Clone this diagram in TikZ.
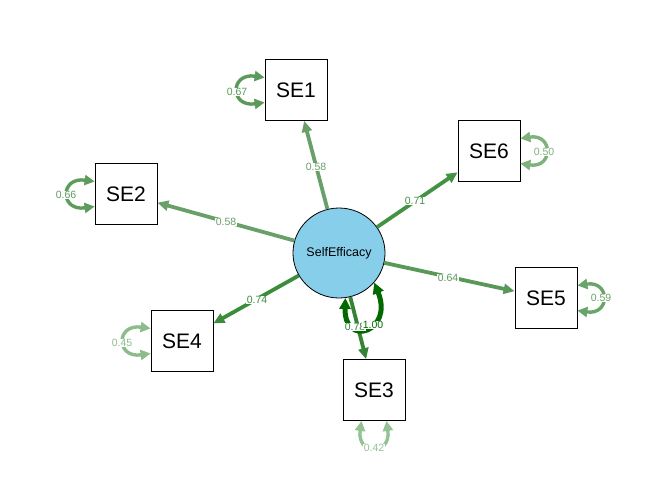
\documentclass[tikz,border=0pt]{standalone}
\usepackage{fontspec}
\setmainfont{Liberation Sans}
\usetikzlibrary{arrows.meta,shapes.geometric,calc}
\definecolor{skyb}{HTML}{87CEEB}
\definecolor{eA}{RGB}{105,160,105}% 0.58
\definecolor{eB}{RGB}{68,146,68}% 0.71
\definecolor{eC}{RGB}{60,140,60}% 0.74
\definecolor{eD}{RGB}{88,152,88}% 0.64
\definecolor{eE}{RGB}{52,132,52}% 0.78
\definecolor{eF}{RGB}{0,105,0}% 1.00
\definecolor{rA}{RGB}{90,155,90}% 0.67
\definecolor{rB}{RGB}{92,156,92}% 0.66
\definecolor{rC}{RGB}{125,178,125}% 0.50
\definecolor{rD}{RGB}{105,165,105}% 0.59
\definecolor{rE}{RGB}{140,188,140}% 0.45
\definecolor{rF}{RGB}{148,194,148}% 0.42
\begin{document}
\begin{tikzpicture}[x=1pt,y=-1pt,
  box/.style={draw=black, line width=0.8pt, minimum width=62pt, minimum height=61pt,
    inner sep=0pt, font=\fontsize{21}{21}\selectfont},
  lat/.style={ellipse, draw=black, line width=0.8pt, fill=skyb, minimum width=86pt,
    minimum height=90pt, inner sep=0pt, font=\fontsize{12.5}{12.5}\selectfont},
  load/.style={line width=3.8pt, -{Triangle[length=11pt,width=10pt]}},
  resid/.style={line width=3.4pt, {Triangle[length=10pt,width=10pt]}-{Triangle[length=10pt,width=10pt]}},
  elab/.style={fill=white, inner sep=0.6pt, font=\fontsize{10.5}{10.5}\selectfont},
]
\useasboundingbox (0,0) rectangle (672,480);
% nodes
\node[lat] (f) at (339,253) {SelfEfficacy};
\node[box] (se1) at (296,90) {SE1};
\node[box] (se6) at (489,151) {SE6};
\node[box] (se2) at (126,194) {SE2};
\node[box] (se5) at (546,298) {SE5};
\node[box] (se4) at (182,341) {SE4};
\node[box] (se3) at (374,390) {SE3};
% loadings
\draw[load, color=eA] (f) -- (se1);
\draw[load, color=eB] (f) -- (se6);
\draw[load, color=eA] (f) -- (se2);
\draw[load, color=eD] (f) -- (se5);
\draw[load, color=eC] (f) -- (se4);
\draw[load, color=eE] (f) -- (se3);
% residual loops
\draw[resid, color=rA] ($(se1.west)+(0,-12.5)$) .. controls +(-35,-5) and +(-35,5) .. ($(se1.west)+(0,12.5)$);
\draw[resid, color=rB] ($(se2.west)+(0,-12.5)$) .. controls +(-35,-5) and +(-35,5) .. ($(se2.west)+(0,12.5)$);
\draw[resid, color=rE] ($(se4.west)+(0,-12.5)$) .. controls +(-35,-5) and +(-35,5) .. ($(se4.west)+(0,12.5)$);
\draw[resid, color=rC] ($(se6.east)+(0,-12.5)$) .. controls +(33,-5) and +(33,5) .. ($(se6.east)+(0,12.5)$);
\draw[resid, color=rD] ($(se5.east)+(0,-12.5)$) .. controls +(33,-5) and +(33,5) .. ($(se5.east)+(0,12.5)$);
\draw[resid, color=rF] ($(se3.south)+(-12.5,0)$) .. controls +(-5,35) and +(5,35) .. ($(se3.south)+(12.5,0)$);
% factor variance loop
\draw[line width=5pt, color=eF, {Triangle[length=11pt,width=11pt]}-{Triangle[length=11pt,width=11pt]}]
  (f.-82) .. controls (344,348) and (394,332) .. (f.-40);
% loading labels
\node[elab, text=eA] (l1) at (316,167) {0.58};
\node[elab, text=eB] (l6) at (415,201) {0.71};
\node[elab, text=eA] (l2) at (226,222) {0.58};
\node[elab, text=eD] (l5) at (448,278) {0.64};
\node[elab, text=eC] (l4) at (257,300) {0.74};
\node[elab, text=eE] (l3) at (355,327) {0.78};
\node[elab, text=eF] (lf) at (373,325) {1.00};
% residual labels
\node[elab, text=rA] (r1) at (237,92) {0.67};
\node[elab, text=rB] (r2) at (66,195) {0.66};
\node[elab, text=rE] (r4) at (122,343) {0.45};
\node[elab, text=rC] (r6) at (544,152) {0.50};
\node[elab, text=rD] (r5) at (601,298) {0.59};
\node[elab, text=rF] (r3) at (374,448) {0.42};
\end{tikzpicture}
\end{document}
